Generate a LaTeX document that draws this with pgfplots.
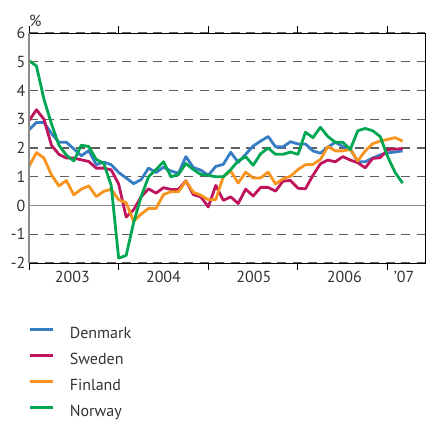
\documentclass[border=0pt]{standalone}
\usepackage{fontspec}
\setmainfont{PT Sans}
\usepackage{pgfplots}
\pgfplotsset{compat=1.18}
\usepackage{pgfplotstable}

\definecolor{cdk}{RGB}{55,125,195}
\definecolor{cse}{RGB}{192,20,95}
\definecolor{cfi}{RGB}{247,148,30}
\definecolor{cno}{RGB}{0,166,81}
\definecolor{txt}{RGB}{51,51,51}
\definecolor{gridc}{RGB}{95,95,95}

\pgfplotstableread{
m dk se fi no
0 2.63 2.95 1.36 5.04
1 2.89 3.33 1.84 4.85
2 2.89 3.00 1.65 3.70
3 2.51 2.10 1.07 2.85
4 2.20 1.78 0.68 2.10
5 2.20 1.65 0.87 1.75
6 1.97 1.65 0.37 1.55
7 1.73 1.59 0.57 2.10
8 1.91 1.53 0.68 2.05
9 1.42 1.30 0.31 1.60
10 1.51 1.30 0.49 1.47
11 1.42 1.24 0.57 0.70
12 1.15 0.75 0.20 -1.83
13 0.96 -0.40 0.10 -1.74
14 0.76 -0.15 -0.55 -0.60
15 0.90 0.30 -0.30 0.30
16 1.30 0.58 -0.10 1.00
17 1.15 0.43 -0.10 1.25
18 1.33 0.62 0.38 1.52
19 1.20 0.56 0.48 1.00
20 1.12 0.56 0.48 1.08
21 1.70 0.86 0.85 1.46
22 1.32 0.38 0.46 1.25
23 1.23 0.30 0.36 1.08
24 1.05 -0.05 0.20 1.05
25 1.36 0.70 0.21 1.00
26 1.43 0.18 1.00 1.00
27 1.85 0.30 1.20 1.25
28 1.50 0.07 0.78 1.55
29 1.78 0.57 1.16 1.70
30 2.07 0.33 0.96 1.40
31 2.24 0.63 0.96 1.80
32 2.40 0.63 1.16 2.00
33 2.04 0.50 0.75 1.78
34 2.04 0.85 0.93 1.78
35 2.22 0.87 1.02 1.86
36 2.14 0.60 1.25 1.78
37 2.14 0.58 1.42 2.55
38 1.90 1.05 1.43 2.36
39 1.82 1.45 1.60 2.72
40 2.03 1.58 2.05 2.40
41 2.20 1.52 1.90 2.20
42 2.05 1.70 1.90 2.20
43 1.97 1.58 1.95 1.95
44 1.52 1.49 1.55 2.60
45 1.52 1.31 1.90 2.68
46 1.65 1.64 2.15 2.60
47 1.76 1.66 2.24 2.40
48 1.83 1.95 2.30 1.70
49 1.86 1.96 2.36 1.15
50 1.90 1.98 2.24 0.78
}\data

\begin{document}
\begin{tikzpicture}
\path[use as bounding box] (-29pt,-158pt) rectangle (398pt,263pt);
\begin{axis}[
  scale only axis, width=396pt, height=230pt,
  at={(0,0)}, anchor=south west,
  clip=false,
  xmin=0, xmax=53, ymin=-2, ymax=6,
  font=\fontsize{16}{19}\selectfont,
  every tick label/.append style={text=txt},
  /pgf/number format/assume math mode=true,
  axis line style={black, line width=1pt},
  major tick length=0pt,
  xtick={5.8,18,30.1,42.2,50.2},
  xticklabels={2003,2004,2005,2006,’07},
  xticklabel style={yshift=-4.5pt},
  extra x ticks={0,12,24,36,48},
  extra x tick labels={},
  extra x tick style={major tick length=7pt, tick align=outside, grid=none, tick style={black, line width=1pt}},
  ytick={-2,-1,1,2,3,4,5,6},
  extra y ticks={0},
  ymajorgrids,
  major grid style={dash pattern=on 9pt off 6.5pt, draw=gridc, line width=1.3pt},
  extra y tick style={ymajorgrids=true, major grid style={solid, draw=gray!90, line width=1.6pt}},
  legend style={draw=none, fill=none, at={(0,0)}, anchor=north west, yshift=-63.6pt,
    inner sep=0pt, outer sep=0pt, row sep=10pt, column sep=15pt,
    font=\fontsize{16}{19}\selectfont, text=txt,
    nodes={inner sep=0pt, text height=12pt, text depth=4pt}},
  legend cell align=left,
  legend image code/.code={\draw[#1] (0pt,5.5pt) -- (23pt,5.5pt);},
  every axis plot/.append style={line width=2.8pt, line join=round},
]
\addplot[cdk] table[x=m, y=dk] {\data};
\addlegendentry{Denmark}
\addplot[cse] table[x=m, y=se] {\data};
\addlegendentry{Sweden}
\addplot[cfi] table[x=m, y=fi] {\data};
\addlegendentry{Finland}
\addplot[cno] table[x=m, y=no] {\data};
\addlegendentry{Norway}
\draw[gray!90, line width=2pt] (rel axis cs:0,0) -- (rel axis cs:0,1);
\node[anchor=west, inner sep=0pt, text=txt, yshift=12.5pt] at (rel axis cs:0,1) {\%};
\end{axis}
\end{tikzpicture}
\end{document}
